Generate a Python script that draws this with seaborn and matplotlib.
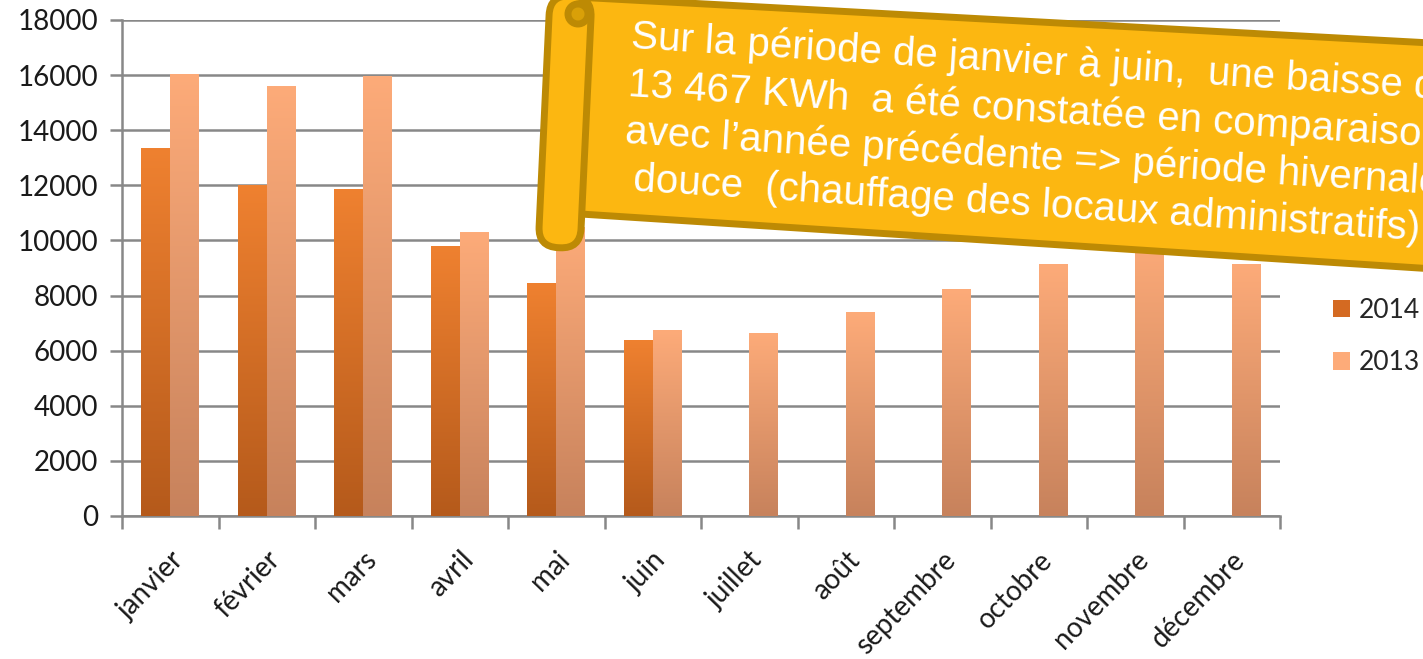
"""
Consommation mensuelle (kWh) 2014 vs 2013, avec bandeau de commentaire.
"""

import matplotlib
matplotlib.use("Agg")
import matplotlib.pyplot as plt
import seaborn as sns
import pandas as pd
import numpy as np
from matplotlib.colors import LinearSegmentedColormap
from matplotlib.patches import Patch, Polygon, FancyBboxPatch, Circle
from matplotlib.transforms import Affine2D

months = ["janvier", "février", "mars", "avril", "mai", "juin", "juillet",
          "août", "septembre", "octobre", "novembre", "décembre"]
conso_2014 = [13350, 12000, 11850, 9800, 8450, 6400,
              np.nan, np.nan, np.nan, np.nan, np.nan, np.nan]
conso_2013 = [16050, 15600, 15950, 10300, 10500, 6750,
              6650, 7400, 8250, 9150, 10200, 9150]
years = ["2014", "2013"]
y_ticks = [0, 2000, 4000, 6000, 8000, 10000, 12000, 14000, 16000, 18000]

banner_text = ("Sur la période de janvier à juin,  une baisse de\n"
               "13 467 KWh  a été constatée en comparaison\n"
               "avec l’année précédente => période hivernale\n"
               " douce  (chauffage des locaux administratifs)")

df = pd.DataFrame({
    "mois": months * 2,
    "kwh": conso_2014 + conso_2013,
    "annee": ["2014"] * 12 + ["2013"] * 12,
})

# colours: (top, bottom) of the vertical gradient
grad = {"2014": ("#ef8130", "#b55a1b"), "2013": ("#fdab79", "#c7825c")}

sns.set_style("white")
plt.rcParams["font.family"] = ["Lato", "DejaVu Sans"]

fig = plt.figure(figsize=(14.23, 6.59), dpi=100)
ax = fig.add_axes([122 / 1423, 1 - 516 / 659, 1158 / 1423, 496 / 659])

sns.barplot(data=df, x="mois", y="kwh", hue="annee", hue_order=years,
            palette=[grad[y][0] for y in years], width=0.6, gap=0,
            saturation=1, ax=ax, legend=False, zorder=3)

# gradient fill clipped to each bar
for i, cont in enumerate(ax.containers):
    top, bottom = grad[years[i]]
    cmap = LinearSegmentedColormap.from_list(years[i], [bottom, top])
    for bar in cont:
        h = bar.get_height()
        if not np.isfinite(h) or h <= 0:
            continue
        x0, w = bar.get_x(), bar.get_width()
        img = ax.imshow(np.linspace(0, 1, 256).reshape(-1, 1), cmap=cmap,
                        extent=[x0, x0 + w, 0, h], origin="lower",
                        aspect="auto", zorder=3.5)
        img.set_clip_path(bar)
        bar.set_facecolor("none")
        bar.set_edgecolor("none")

ax.set_xlim(-0.5, 11.5)
ax.set_ylim(0, 18000)
ax.set_aspect("auto")

ax.set_yticks(y_ticks)
ax.set_yticklabels([str(v) for v in y_ticks], fontsize=20, color="#1a1a1a")
ax.grid(axis="y", color="#888888", linewidth=1.8, zorder=0)
ax.set_axisbelow(True)
ax.tick_params(axis="y", length=9, width=1.8, color="#888888", left=True, pad=8)

ax.set_xticks(range(12))
ax.set_xticklabels(months, rotation=46, ha="right", rotation_mode="anchor",
                   fontsize=20, color="#1a1a1a")
ax.tick_params(axis="x", length=0, pad=22)
ax.set_xticks(np.arange(-0.5, 12, 1), minor=True)
ax.tick_params(axis="x", which="minor", length=9, width=1.8, color="#888888",
               bottom=True)
ax.set_xlabel("")
ax.set_ylabel("")

for side in ["top", "right"]:
    ax.spines[side].set_visible(False)
for side in ["left", "bottom"]:
    ax.spines[side].set_color("#888888")
    ax.spines[side].set_linewidth(1.8)

handles = [Patch(facecolor=grad[y][0], edgecolor="none", label=y) for y in years]
handles[0].set_facecolor("#d46a22")
fig.legend(handles=handles, loc="upper left", frameon=False,
           bbox_to_anchor=(1309 / 1423, 1 - 274 / 659), fontsize=19,
           handlelength=0.65, handleheight=0.65, handletextpad=0.35,
           labelspacing=1.05)

# banner overlay in pixel coordinates
ov = fig.add_axes([0, 0, 1, 1], zorder=10)
ov.set_xlim(0, 1423)
ov.set_ylim(659, 0)
ov.axis("off")
ov.patch.set_alpha(0)

fill, edge = "#fcb711", "#bd8a04"
ov.add_patch(Polygon([(575, -3), (1450, 44), (1450, 270), (565, 213)],
                     closed=True, facecolor=fill, edgecolor=edge, linewidth=5))

roll = FancyBboxPatch((-21, 0), 42, 252,
                      boxstyle="round,pad=0,rounding_size=20",
                      facecolor=fill, edgecolor=edge, linewidth=5,
                      transform=Affine2D().rotate_deg(2.7).translate(571, -4)
                      + ov.transData)
ov.add_patch(roll)
ov.add_patch(Circle((578, 14), 10, facecolor="#d9a008", edgecolor=edge,
                    linewidth=5))

ov.text(632, 18, banner_text, color="white", fontsize=29,
        family=["Liberation Sans", "DejaVu Sans"], rotation=-3.6,
        rotation_mode="anchor", ha="left", va="top", linespacing=1.29)

fig.savefig("out.png", dpi=100)
